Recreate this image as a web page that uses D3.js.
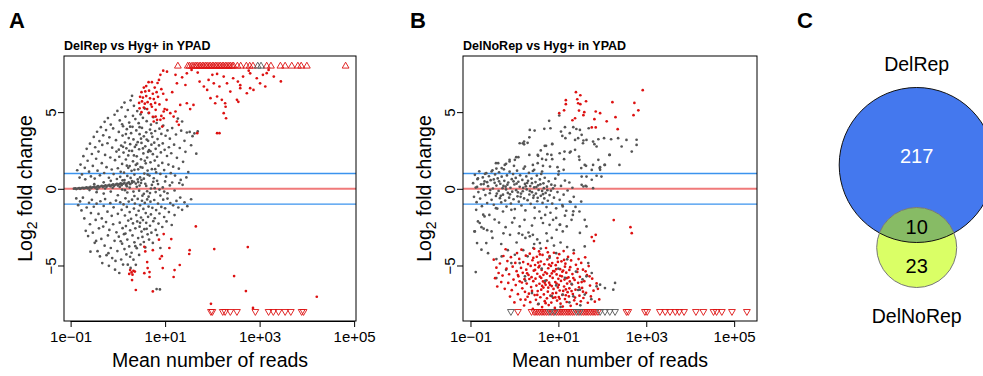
<!DOCTYPE html>
<html>
<head>
<meta charset="utf-8">
<script src="https://cdn.jsdelivr.net/npm/d3@7"></script>
<style>
  body { margin: 0; background: #fff; }
  text { font-family: "Liberation Sans", Arial, sans-serif; }
</style>
</head>
<body>
<script>
// MA plots: each point is [log10 mean reads, log2 fold change]
const aGray = [
  // near-zero band
  [-0.93,0.01],[-0.9,0.03],[-0.88,-0.02],[-0.85,0.02],[-0.82,0.05],[-0.8,0.0],[-0.77,0.04],[-0.74,0.07],[-0.72,0.02],[-0.69,0.06],
  [-0.66,0.09],[-0.64,0.03],[-0.61,0.08],[-0.58,0.12],[-0.56,0.05],[-0.53,0.1],[-0.5,0.14],[-0.48,0.07],[-0.45,0.12],[-0.42,0.17],
  [-0.4,0.09],[-0.37,0.15],[-0.34,0.2],[-0.32,0.11],[-0.29,0.18],[-0.26,0.23],[-0.24,0.13],[-0.21,0.21],[-0.18,0.26],[-0.16,0.16],
  [-0.13,0.24],[-0.1,0.29],[-0.08,0.18],[-0.05,0.27],[-0.02,0.33],[0.0,0.21],[0.03,0.3],[0.06,0.36],[0.08,0.24],[0.11,0.33],
  [0.14,0.39],[0.17,0.27],[0.2,0.36],[0.23,0.42],[0.26,0.3],[0.3,0.4],[0.34,0.46],[0.38,0.34],[0.43,0.44],[0.49,0.38],
  [-0.6,-0.08],[-0.44,-0.03],[-0.27,0.02],[-0.11,0.07],[0.04,0.12],[0.19,0.16],[-0.5,0.3],[-0.3,0.42],[-0.15,-0.18],[0.09,-0.05],
  [-0.3,-0.31],[-0.15,0.52],[0.0,-0.42],[0.1,0.55],[0.2,-0.24],[0.25,0.08],[0.35,-0.47],[0.4,0.13],[0.45,-0.12],[0.5,0.57],
  [0.55,-0.33],[0.6,0.19],[0.65,-0.51],[0.7,0.02],[0.75,0.46],[0.8,-0.21],[0.85,0.31],[0.9,-0.44],[0.95,0.09],[1.0,0.48],
  [1.05,-0.29],[1.1,0.22],[1.2,-0.11],[1.3,0.38],[1.37,0.26],[0.15,-0.09],[0.3,0.51],[0.62,-0.16],[0.78,0.04],[-0.45,-0.22],
  [0.52,-0.45],[0.58,0.33],[0.68,-0.28],[0.72,0.25],[0.88,-0.05],[0.98,-0.18],[1.15,0.41],[0.33,-0.18],[0.46,0.21],[0.83,0.52],
  // up
  [-0.86,1.21],[-0.81,0.73],[-0.79,1.58],[-0.76,0.94],[-0.73,2.13],[-0.7,1.37],[-0.69,0.62],[-0.66,2.61],[-0.64,1.83],[-0.61,1.12],
  [-0.59,2.94],[-0.57,0.81],[-0.55,2.27],[-0.53,1.49],[-0.51,3.38],[-0.49,0.67],[-0.48,2.71],[-0.46,1.96],[-0.44,3.72],[-0.43,1.18],
  [-0.41,2.43],[-0.39,3.11],[-0.38,0.88],[-0.36,4.02],[-0.34,1.67],[-0.33,2.86],[-0.31,3.49],[-0.29,1.03],[-0.28,4.37],[-0.27,2.21],
  [-0.25,3.83],[-0.24,1.41],[-0.22,2.97],[-0.21,4.61],[-0.19,0.72],[-0.18,3.36],[-0.16,2.04],[-0.15,4.19],[-0.13,1.26],[-0.12,2.68],
  [-0.1,3.94],[-0.09,0.96],[-0.07,4.83],[-0.06,1.87],[-0.04,3.17],[-0.03,2.43],[-0.01,5.08],[0.0,1.34],[0.02,3.71],[0.03,2.09],
  [0.04,4.46],[0.05,0.78],[0.07,2.82],[0.08,5.31],[0.09,1.62],[0.1,3.47],[0.11,4.08],[0.12,2.36],[0.13,1.05],[0.14,5.62],
  [0.15,3.02],[0.16,4.71],[0.17,1.91],[0.18,2.64],[0.19,3.89],[0.2,0.84],[0.21,5.14],[0.22,2.18],[0.23,3.31],[0.24,4.32],
  [0.25,1.48],[0.26,2.91],[0.27,5.77],[0.28,3.63],[0.29,1.17],[0.3,6.06],[0.3,2.47],[0.31,4.04],[0.32,1.79],[0.33,3.22],
  [0.34,5.41],[0.35,0.93],[0.36,2.73],[0.37,4.55],[0.38,1.56],[0.39,3.81],[0.4,2.12],[0.41,5.07],[0.42,3.04],[0.43,1.27],
  [0.44,4.28],[0.45,2.58],[0.46,3.56],[0.47,0.74],[0.48,4.86],[0.49,1.92],[0.5,2.99],[0.51,3.97],[0.52,1.38],[0.53,4.63],
  [0.54,2.31],[0.55,3.42],[0.56,0.99],[0.57,5.23],[0.58,2.77],[0.59,1.66],[0.6,3.68],[0.61,4.41],[0.62,2.04],[0.63,1.19],
  [0.64,3.13],[0.65,4.94],[0.66,2.52],[0.67,0.86],[0.68,3.86],[0.69,1.73],[0.7,4.18],[0.71,2.88],[0.72,1.28],[0.73,3.39],
  [0.74,2.26],[0.75,4.67],[0.76,0.69],[0.77,3.01],[0.78,1.84],[0.79,3.77],[0.8,2.61],[0.81,1.07],[0.82,4.29],[0.83,2.09],
  [0.84,3.24],[0.86,1.51],[0.87,2.83],[0.88,3.92],[0.9,0.97],[0.91,2.37],[0.92,3.58],[0.94,1.69],[0.95,2.96],[0.96,4.12],
  [0.98,1.22],[0.99,2.54],[1.01,3.46],[1.02,0.79],[1.04,2.14],[1.05,3.81],[1.07,1.58],[1.08,2.71],[1.1,3.27],[1.12,1.02],
  [1.13,2.32],[1.15,3.96],[1.17,1.44],[1.19,2.88],[1.21,0.86],[1.23,3.54],[1.25,2.02],[1.27,4.58],[1.29,1.31],[1.31,2.66],
  [1.34,3.79],[1.36,4.39],[1.38,1.76],[1.41,3.13],[1.43,2.41],[1.46,3.67],[1.49,1.09],[1.52,3.71],[1.55,2.84],[1.58,3.43],
  [1.62,3.61],[1.66,2.29],[1.69,3.74],[1.45,0.74],[1.33,0.58],
  [-0.02,0.64],[0.06,1.11],[0.14,0.57],[0.22,1.37],[0.27,0.71],[0.35,1.24],[0.42,0.61],[0.48,1.42],[0.55,0.66],[0.63,0.93],
  [0.11,2.74],[0.19,1.51],[0.26,4.05],[0.34,2.18],[0.41,1.64],[0.49,3.27],[0.57,1.83],[0.64,2.41],[0.71,3.62],[0.79,1.28],
  [0.02,2.55],[0.09,4.21],[0.17,3.57],[0.24,2.48],[0.32,4.76],[0.39,2.87],[0.46,4.02],[0.53,2.63],[0.61,3.21],[0.69,2.45],
  // down
  [-0.88,-0.63],[-0.84,-1.07],[-0.8,-0.82],[-0.77,-1.41],[-0.74,-0.58],[-0.71,-1.93],[-0.68,-2.74],[-0.66,-1.22],[-0.63,-3.08],[-0.61,-0.91],
  [-0.59,-2.31],[-0.57,-1.58],[-0.55,-0.72],[-0.53,-2.86],[-0.51,-1.17],[-0.49,-3.52],[-0.47,-2.03],[-0.45,-0.97],[-0.43,-4.07],[-0.41,-1.64],
  [-0.4,-2.58],[-0.38,-4.41],[-0.37,-0.81],[-0.35,-3.27],[-0.34,-1.93],[-0.33,-4.84],[-0.31,-2.46],[-0.3,-1.12],[-0.28,-3.71],[-0.27,-0.67],
  [-0.25,-2.17],[-0.24,-4.33],[-0.22,-1.49],[-0.21,-3.04],[-0.19,-5.02],[-0.18,-2.68],[-0.16,-0.94],[-0.15,-3.86],[-0.13,-1.76],[-0.12,-4.52],
  [-0.1,-2.31],[-0.09,-1.21],[-0.07,-3.39],[-0.06,-5.27],[-0.04,-0.77],[-0.03,-2.84],[-0.01,-4.06],[0.0,-1.63],[0.02,-3.12],[0.03,-5.49],
  [0.04,-2.21],[0.05,-0.88],[0.07,-4.61],[0.08,-1.37],[0.09,-3.58],[0.1,-2.57],[0.11,-4.94],[0.12,-1.02],[0.13,-2.96],[0.14,-3.93],
  [0.15,-1.74],[0.16,-0.62],[0.17,-2.43],[0.18,-4.28],[0.19,-1.18],[0.2,-3.31],[0.21,-4.95],[0.22,-2.07],[0.23,-0.83],[0.24,-3.76],
  [0.25,-1.52],[0.26,-2.71],[0.27,-5.16],[0.28,-1.96],[0.29,-4.17],[0.3,-0.71],[0.31,-3.04],[0.32,-2.26],[0.33,-4.62],[0.34,-1.29],
  [0.35,-3.49],[0.36,-0.96],[0.37,-2.58],[0.38,-4.96],[0.39,-1.71],[0.4,-3.87],[0.41,-2.13],[0.42,-0.66],[0.43,-3.21],[0.44,-1.43],
  [0.45,-4.31],[0.46,-2.47],[0.47,-1.08],[0.48,-3.63],[0.49,-1.87],[0.5,-2.79],[0.51,-0.78],[0.52,-3.14],[0.53,-2.04],[0.54,-1.31],
  [0.55,-3.47],[0.56,-2.63],[0.57,-0.92],[0.58,-3.82],[0.59,-1.58],[0.6,-2.22],[0.62,-0.69],[0.63,-2.97],[0.64,-1.83],[0.65,-1.16],
  [0.66,-3.31],[0.68,-2.41],[0.69,-0.84],[0.7,-1.67],[0.71,-2.86],[0.73,-1.24],[0.74,-3.53],[0.75,-2.11],[0.77,-0.73],[0.78,-1.92],
  [0.8,-2.68],[0.81,-1.39],[0.82,-6.54],[0.83,-3.02],[0.85,-0.96],[0.86,-2.27],[0.88,-1.61],[0.89,-6.56],[0.9,-3.86],[0.92,-1.18],
  [0.94,-2.49],[0.96,-0.71],[0.98,-1.84],[1.0,-1.27],[1.03,-2.13],[1.05,-0.64],[1.08,-1.52],[1.11,-0.93],[1.14,-2.36],[1.17,-1.08],
  [1.2,-1.71],[1.24,-0.79],[1.28,-1.22],[1.32,-0.57],[1.36,-1.37],[1.41,-0.88],[1.47,-1.13],[1.55,-0.68],
  [-0.58,-4.1],[-0.46,-3.4],[-0.2,-4.2],[-0.05,-4.7],[0.06,-3.42],[0.16,-2.92],[0.26,-4.43],[0.37,-3.74],[0.47,-2.22],[0.61,-2.61]
];
const aRed = [
  [0.96,7.7],[0.9,7.43],[0.87,7.1],[0.65,6.95],[0.72,6.95],[0.84,6.9],[0.55,6.6],[0.6,6.7],[0.78,6.6],[0.92,6.5],
  [0.5,6.3],[0.58,6.35],[0.66,6.4],[0.74,6.2],[0.82,6.3],[0.47,6.0],[0.53,5.95],[0.6,6.05],[0.68,5.9],[0.76,5.85],
  [0.85,6.0],[0.45,5.6],[0.51,5.7],[0.57,5.55],[0.63,5.65],[0.7,5.5],[0.79,5.6],[0.88,5.5],[0.46,5.25],[0.55,5.3],
  [0.62,5.2],[0.72,5.35],[0.8,5.15],[0.5,5.0],[0.66,4.95],[0.74,4.7],[0.92,4.75],[0.97,4.6],[0.83,4.5],[0.99,5.2],
  [1.03,5.8],[0.96,6.2],
  [1.04,7.64],[1.22,7.43],[1.25,6.88],[1.36,7.27],[1.46,7.53],[1.56,7.75],[1.69,7.58],[1.73,6.99],[1.82,6.67],[1.89,6.45],
  [1.92,7.1],[2.0,7.43],[2.03,6.88],[2.1,7.49],[2.15,6.67],[2.24,7.32],[2.31,6.88],[2.38,6.34],[2.44,7.21],[2.54,6.99],
  [2.59,6.56],[2.65,7.32],[2.73,6.23],[2.8,7.53],[2.87,6.45],[2.94,7.21],[3.01,6.88],[3.07,7.43],[3.12,6.67],[3.19,7.75],
  [3.3,7.32],[3.45,7.0],[1.96,5.91],[2.1,6.02],[2.2,5.8],[2.27,5.58],[2.06,5.58],[2.24,4.93],[2.29,4.6],[2.1,3.63],
  [2.15,3.63],[1.68,3.63],[1.6,5.47],[1.46,5.58],[1.32,5.47],[1.22,5.04],[1.18,4.71],[1.25,4.39],[1.29,4.17],[1.11,4.93],
  [1.04,5.15],[0.97,5.04],[0.9,4.5],[0.94,4.06],[0.8,4.71],[0.76,4.39],[1.43,6.77],[2.52,5.8],[2.8,6.56],[3.15,7.54],
  [2.59,6.76],[2.55,5.67],[2.28,5.35],[1.53,5.2],[1.15,6.3],[2.77,7.7],
  [1.65,-2.45],[0.97,-2.95],[1.13,-3.28],[0.87,-3.32],[0.56,-3.78],[1.09,-3.86],[0.74,-4.0],[0.58,-4.08],[1.52,-4.0],[1.51,-4.25],
  [0.93,-4.39],[0.89,-4.56],[0.62,-4.78],[1.31,-4.97],[0.95,-5.17],[0.63,-5.17],[1.2,-5.3],[0.26,-5.3],[0.29,-5.45],[0.33,-5.35],
  [0.31,-5.6],[0.36,-5.4],[0.24,-5.55],[0.56,-5.5],[0.67,-5.43],[1.18,-5.75],[0.67,-5.75],[0.3,-5.95],[0.38,-6.6],[0.74,-6.69],
  [1.97,-7.5],[2.04,-3.93],[2.75,-3.8],[2.46,-5.69],[2.71,-6.67],[2.86,-7.77],[4.21,-7.04]
];
// genes beyond the y range, drawn as triangles at the limit: log10 mean reads
const aUpRed = [1.27,1.48,1.52,1.57,1.61,1.65,1.68,1.72,1.75,1.79,1.82,1.86,1.89,1.93,1.96,2.0,2.03,2.07,2.1,2.14,
  2.17,2.21,2.24,2.28,2.31,2.35,2.38,2.42,2.45,2.53,2.6,2.72,2.79,2.86,3.15,3.24,3.44,3.54,3.68,3.81,3.88,4.0,4.82];
const aUpGray = [2.96,3.03];
const aDownRed = [1.97,2.0,2.22,2.27,2.38,2.52,2.91,3.19,3.29,3.4,3.54,3.66,3.89,3.93];

const bGray = [
  // central cloud
  [-0.94,0.37],[-0.92,-0.52],[-0.9,0.91],[-0.88,0.08],[-0.86,-0.87],[-0.84,0.63],[-0.82,-0.21],[-0.8,1.14],[-0.78,-0.64],[-0.76,0.29],
  [-0.74,-1.13],[-0.72,0.74],[-0.7,-0.06],[-0.68,0.48],[-0.66,-0.41],[-0.64,1.02],[-0.62,-0.93],[-0.6,0.17],[-0.58,0.82],[-0.56,-0.29],
  [-0.54,0.56],[-0.52,-0.72],[-0.5,1.21],[-0.49,0.02],[-0.47,-1.04],[-0.45,0.39],[-0.44,0.94],[-0.42,-0.47],[-0.41,0.21],[-0.39,-1.29],
  [-0.38,0.68],[-0.36,-0.14],[-0.35,1.08],[-0.33,-0.61],[-0.32,0.33],[-0.3,-0.89],[-0.29,0.79],[-0.27,0.04],[-0.26,-0.38],[-0.24,1.27],
  [-0.23,0.52],[-0.21,-0.77],[-0.2,0.14],[-0.18,-1.16],[-0.17,0.87],[-0.15,-0.27],[-0.14,0.41],[-0.12,-0.58],[-0.11,1.12],[-0.09,0.07],
  [-0.08,-0.96],[-0.06,0.63],[-0.05,-0.19],[-0.03,0.96],[-0.02,-0.68],[0.0,0.28],[0.01,-1.32],[0.03,0.71],[0.04,-0.09],[0.06,1.18],
  [0.07,-0.49],[0.09,0.46],[0.1,-0.84],[0.12,0.13],[0.13,0.88],[0.15,-0.31],[0.16,-1.09],[0.18,0.58],[0.19,-0.16],[0.21,1.31],
  [0.22,-0.63],[0.24,0.32],[0.25,-1.41],[0.27,0.81],[0.28,-0.04],[0.3,-0.74],[0.31,0.52],[0.33,1.04],[0.34,-0.37],[0.36,0.18],
  [0.37,-0.98],[0.39,0.67],[0.4,-0.22],[0.42,1.16],[0.43,-0.59],[0.45,0.09],[0.46,-1.23],[0.48,0.44],[0.49,-0.31],[0.51,0.86],
  [0.52,-0.81],[0.54,0.23],[0.55,-0.07],[0.57,-1.48],[0.58,0.61],[0.6,-0.46],[0.61,0.97],[0.63,-0.14],[0.64,-0.92],[0.66,0.36],
  [0.68,-0.63],[0.69,0.72],[0.71,-0.27],[0.73,-1.19],[0.74,0.14],[0.76,-0.78],[0.78,0.49],[0.8,-0.41],[0.82,-1.56],[0.84,0.27],
  [0.86,-0.96],[0.88,0.03],[0.9,-0.58],[0.93,0.66],[0.95,-1.27],[0.98,-0.21],[1.0,0.93],[1.03,-0.72],[1.06,0.19],[1.09,-1.06],
  [1.12,-0.38],[1.15,0.54],[1.18,-1.43],[1.21,-0.11],[1.25,0.41],[1.28,-0.86],[1.32,0.07],[1.35,-0.52],[1.39,-1.18],[1.01,1.14],
  [-0.62,0.43],[-0.47,0.61],[-0.31,-0.46],[-0.16,0.27],[-0.02,0.49],[0.14,-0.52],[0.26,0.16],[0.4,0.37],[0.53,-0.59],[0.67,0.04],
  [-0.55,-0.08],[-0.4,-0.31],[-0.25,0.19],[-0.1,-0.36],[0.05,0.34],[0.2,0.06],[0.35,-0.14],[0.5,0.11],[0.65,-0.35],[0.83,-0.12],
  [-0.85,0.12],[-0.7,0.31],[-0.35,0.49],[-0.19,-0.04],[0.08,-0.23],[0.29,0.38],[0.44,-0.44],[0.59,0.29],[0.75,-0.09],[0.92,0.21],
  // rising arm
  [0.19,2.97],[0.22,2.9],[0.69,2.8],[0.86,2.93],[1.14,2.43],[1.56,2.97],[0.04,2.06],[-0.11,1.89],[-0.42,1.67],[-0.19,1.63],
  [-0.01,1.5],[0.42,1.56],[0.65,1.5],[0.34,2.21],[0.53,2.21],[0.72,1.89],[0.84,2.21],[1.03,2.32],[1.26,2.36],[1.48,1.89],
  [1.63,1.5],[1.94,1.35],[2.05,1.56],[2.17,2.21],
  [0.12,2.97],[0.22,3.08],[0.34,3.36],[0.35,3.84],[0.46,3.8],[0.68,3.91],[0.82,3.95],[0.72,2.8],[0.86,2.91],[0.54,2.15],
  [0.63,1.95],[0.75,2.26],[0.86,1.93],[1.06,3.73],[1.15,4.02],[1.09,3.45],[1.16,3.3],[1.26,3.63],[1.34,4.02],[1.41,3.9],
  [1.49,3.84],[1.53,3.52],[1.38,3.19],[1.45,3.3],[1.57,3.15],[1.64,3.19],[1.69,3.95],[1.79,3.08],[1.82,2.91],[1.87,2.76],
  [1.91,3.23],[2.04,3.3],[2.2,3.23],[2.36,3.3],[2.44,2.76],[2.55,3.19],[2.67,2.43],[2.78,2.86],[2.39,1.56],[2.16,2.21],
  [2.06,1.56],[1.91,1.89],[1.95,1.41],[1.79,1.56],[1.76,1.23],[1.6,1.56],[1.47,2.1],[1.52,1.35],[1.38,2.54],[1.28,2.43],
  [1.13,1.93],[1.12,1.24],[0.98,1.41],[0.81,1.45],[0.63,1.13],[0.53,1.67],[0.45,1.24],[0.24,1.45],[0.09,2.06],[0.01,1.89],
  [-0.11,1.78],[-0.22,1.56],[-0.37,1.67],[-0.29,1.35],[-0.41,1.32],[-0.52,1.13],[-0.67,0.98],[-0.83,0.69],[1.64,0.8],[1.53,0.8],
  [1.87,0.85],[1.98,0.8],[1.57,0.15],[1.62,0.2],[1.79,0.04],[2.78,3.2],[1.95,1.24],[1.76,0.59],[1.64,0.15],[1.53,0.26],
  [0.79,4.43],[1.02,4.78],[0.3,3.0],[0.6,2.5],
  // lower
  [-0.88,-5.43],[-0.9,-2.78],[-0.85,-3.54],[-0.75,-3.97],[-0.64,-3.54],[-0.79,-2.23],[-0.71,-1.69],[-0.52,-2.78],[-0.41,-4.58],[-0.41,-5.82],
  [-0.29,-4.41],[-0.19,-5.28],[-0.07,-4.84],[0.01,-4.3],[0.12,-4.84],[0.24,-5.71],[0.12,-2.45],[0.35,-3.1],[0.43,-3.86],[0.58,-3.54],
  [0.65,-2.23],[0.73,-2.9],[0.85,-3.2],[0.96,-2.67],[1.04,-2.34],[1.19,-2.45],[1.3,-2.02],[1.34,-1.47],[-0.87,-1.37],[-0.68,-1.8],
  [-0.83,-2.13],[-0.57,-1.7],[-0.42,-1.26],[-0.26,-1.48],[-0.07,-1.37],[0.0,-1.91],[0.23,-2.02],[0.46,-1.91],[0.61,-1.91],[0.8,-2.35],
  [0.88,-2.02],[1.03,-2.35],[1.1,-2.78],[1.33,-1.7],[1.52,-0.83],[1.48,-1.48],[1.6,-2.02],[1.1,-1.15],[1.26,-0.83],[-0.75,-2.5],
  [-0.7,-2.6],[-0.62,-2.7],[-0.91,-2.78],[0.1,-2.9],[0.18,-3.0],[0.25,-3.2],[0.32,-2.85],[0.42,-3.0],[0.52,-3.3],[-0.35,-2.2],
  [-0.2,-2.5],[-0.1,-3.0],[0.05,-3.5],[-0.5,-3.2],[-0.3,-3.6],[-0.15,-4.0],[0.2,-4.0],[0.3,-4.4],[-0.6,-4.2],[-0.45,-2.0],
  [0.7,-1.7],[0.95,-1.9],[1.15,-1.75],[0.4,-2.4],[-0.05,-2.2],[-0.25,-2.9]
];
const bRed = [
  [1.4,6.3],[1.5,6.1],[1.17,5.78],[1.17,5.52],[1.43,5.84],[1.45,5.58],[1.5,5.52],[1.63,5.71],[1.13,5.12],[1.02,4.93],
  [1.47,5.1],[1.59,5.0],[1.57,4.8],[1.32,4.47],[1.38,4.6],[1.76,4.0],[1.85,4.0],[1.85,5.04],[1.95,4.93],[1.82,4.54],
  [2.23,5.65],[2.1,4.4],[2.3,4.67],[2.35,3.89],[2.73,5.6],[2.82,5.12],[2.71,4.8],[2.92,6.43],
  [2.26,-2.04],[2.64,-2.5],[2.67,-2.89],[1.76,-3.15],[1.81,-3.41],[1.85,-3.0],
  [-0.47,-4.62],[-0.44,-5.83],[-0.41,-5.14],[-0.39,-6.37],[-0.36,-5.49],[-0.33,-4.87],[-0.3,-6.08],[-0.27,-5.66],[-0.25,-4.38],[-0.22,-6.52],
  [-0.2,-3.94],[-0.18,-5.21],[-0.16,-4.71],[-0.14,-6.14],[-0.12,-5.57],[-0.1,-7.03],[-0.08,-4.46],[-0.06,-6.61],[-0.04,-5.08],[-0.02,-5.92],
  [0.0,-7.41],[0.02,-4.83],[0.03,-6.28],[0.05,-5.37],[0.06,-4.19],[0.08,-6.87],[0.09,-5.71],[0.11,-4.57],[0.12,-6.03],[0.14,-7.22],
  [0.15,-5.16],[0.16,-3.97],[0.18,-6.49],[0.19,-5.48],[0.2,-4.78],[0.22,-7.61],[0.23,-5.89],[0.24,-6.72],[0.26,-4.36],[0.27,-5.27],
  [0.28,-6.18],[0.3,-7.04],[0.31,-4.91],[0.32,-5.62],[0.33,-6.84],[0.35,-4.23],[0.36,-7.39],[0.37,-5.03],[0.38,-6.41],[0.39,-5.76],
  [0.41,-4.66],[0.42,-7.83],[0.43,-6.02],[0.44,-5.34],[0.45,-3.91],[0.46,-6.93],[0.47,-4.97],[0.48,-5.86],[0.49,-7.24],[0.5,-6.31],
  [0.51,-4.43],[0.52,-5.54],[0.53,-6.67],[0.54,-7.52],[0.55,-5.12],[0.56,-4.08],[0.57,-6.19],[0.58,-5.73],[0.59,-7.07],[0.6,-4.74],
  [0.61,-6.58],[0.62,-5.29],[0.63,-7.71],[0.64,-4.31],[0.65,-6.04],[0.66,-5.61],[0.67,-6.89],[0.68,-4.92],[0.69,-7.33],[0.7,-5.44],
  [0.71,-6.26],[0.72,-3.86],[0.73,-5.97],[0.74,-7.14],[0.75,-4.61],[0.76,-6.71],[0.77,-5.18],[0.78,-7.58],[0.79,-6.12],[0.8,-4.39],
  [0.81,-5.69],[0.82,-6.97],[0.83,-5.03],[0.84,-7.42],[0.85,-6.34],[0.86,-4.84],[0.87,-5.81],[0.88,-7.11],[0.89,-6.53],[0.9,-4.17],
  [0.91,-5.39],[0.92,-7.77],[0.93,-6.08],[0.94,-4.98],[0.95,-6.79],[0.96,-5.58],[0.97,-7.29],[0.98,-4.52],[0.99,-6.43],[1.0,-5.87],
  [1.01,-7.06],[1.02,-4.26],[1.03,-6.63],[1.04,-5.24],[1.05,-7.49],[1.06,-6.01],[1.07,-4.73],[1.08,-5.71],[1.09,-6.92],[1.1,-7.68],
  [1.11,-5.33],[1.12,-4.06],[1.13,-6.37],[1.14,-5.92],[1.15,-7.19],[1.16,-4.88],[1.17,-6.56],[1.18,-5.47],[1.19,-7.38],[1.2,-6.18],
  [1.22,-4.44],[1.23,-5.78],[1.24,-7.02],[1.25,-6.49],[1.27,-5.11],[1.28,-7.63],[1.29,-4.67],[1.31,-6.24],[1.32,-5.56],[1.33,-6.86],
  [1.35,-4.21],[1.36,-7.27],[1.37,-5.94],[1.39,-6.58],[1.4,-4.96],[1.42,-7.51],[1.43,-5.42],[1.45,-6.13],[1.46,-4.58],[1.48,-6.97],
  [1.49,-5.74],[1.51,-7.34],[1.52,-4.83],[1.54,-6.46],[1.56,-5.27],[1.57,-7.12],[1.59,-6.02],[1.61,-4.47],[1.63,-6.78],[1.65,-5.63],
  [1.67,-7.43],[1.69,-5.04],[1.72,-6.31],[1.74,-7.02],[1.77,-5.86],[1.8,-6.64],[1.83,-7.36],[1.87,-6.17],[1.9,-6.52],[1.93,-7.21],
  [0.57,-5.02],[0.66,-6.44],[0.74,-5.53],[0.81,-6.27],[0.88,-5.36],[0.96,-6.18],[1.04,-5.67],[1.11,-6.66],[1.19,-5.83],[1.26,-6.04],
  [0.52,-6.92],[0.61,-5.81],[0.69,-6.13],[0.77,-6.45],[0.85,-5.52],[0.93,-7.08],[1.01,-6.27],[1.09,-5.41],[1.17,-6.94],[1.34,-5.82],
  [0.47,-5.29],[0.54,-4.81],[0.63,-6.33],[0.71,-7.46],[0.79,-4.94],[0.87,-6.82],[0.95,-5.24],[1.03,-7.17],[1.13,-4.64],[1.21,-6.74],
  [0.34,-5.88],[0.4,-6.66],[0.29,-5.51],[0.17,-6.11],[0.25,-7.23],[0.08,-5.62],[0.43,-4.51],[0.58,-4.28],[0.76,-4.14],[0.99,-4.77],
  [1.44,-5.23],[1.53,-6.08],[1.62,-5.38],[1.71,-5.71],[1.3,-6.67],[1.38,-7.09],[1.47,-6.42],[1.56,-6.71],[1.25,-5.29],[1.15,-5.08]
];
// grey genes sitting inside the red cloud of panel B (drawn on top)
const bGrayOver = [
  [0.45,-3.6],[0.6,-3.9],[0.75,-3.4],[0.9,-3.7],[1.05,-3.5],[1.2,-3.8],[1.35,-4.0],[0.8,-4.5],[1.0,-5.2],[1.15,-5.8],
  [1.3,-6.2],[1.45,-6.6],[1.6,-6.9],[1.75,-7.2],[0.95,-6.3],[1.1,-6.9],[1.25,-7.4],[0.7,-6.0],[0.85,-7.0],[1.4,-5.4],
  [1.55,-5.9],[1.64,-5.71],[1.49,-6.58],[1.34,-7.01],[1.87,-6.36],[1.95,-6.25],[2.06,-6.47],[2.25,-6.58],[2.29,-6.14],[1.68,-4.84],
  [1.76,-5.49],[1.6,-3.76],[1.49,-2.88],[1.64,-2.45],[0.55,-7.5],[0.4,-6.8],[0.62,-5.2],[0.25,-6.0],[1.05,-7.7],[1.5,-7.6],
  [0.95,-4.2],[1.2,-4.6]
];
const bUpRed = [];
const bUpGray = [];
const bDownRed = [0.08,0.39,0.45,0.49,0.53,0.57,0.61,0.65,0.69,0.73,0.77,0.85,0.89,0.96,1.0,1.04,1.08,1.12,1.16,1.2,
  1.24,1.28,1.32,1.36,1.45,1.53,1.57,1.61,1.65,1.69,1.73,1.77,1.81,1.85,1.9,2.55,2.59,2.97,3.02,3.31,
  3.43,3.54,3.66,3.75,3.86,4.13,4.3,4.53,4.6,4.72,4.95,5.29];
const bDownGray = [-0.08,0.81,0.92,1.41,1.49,1.95,2.06,2.17,2.29];

// Venn counts
const vennSets = ["DelRep", "DelNoRep"];
const vennCounts = [217, 10, 23]; // DelRep only, both, DelNoRep only

const xTicks = [0.1, 10, 1000, 100000];
const xTickLabels = ["1e\u221201", "1e+01", "1e+03", "1e+05"];
const yTicks = [-5, 0, 5];
const yClip = 8;

const GRAY = "#555555";
const RED = "#dd1111";

const svg = d3.select("body").append("svg")
  .attr("width", 983).attr("height", 376)
  .attr("xmlns", "http://www.w3.org/2000/svg");

const plotTop = 56, plotBottom = 321;
const y = d3.scaleLinear().domain([-8.62, 8.66]).range([plotBottom, plotTop]);

const panels = [
  { letter: "A", lx: 9, title: "DelRep vs Hyg+ in YPAD", left: 64, right: 356, xDom: [-1.14, 5.04],
    gray: aGray, red: aRed, over: [], up: aUpRed, upGray: aUpGray, down: aDownRed, downGray: [] },
  { letter: "B", lx: 410, title: "DelNoRep vs Hyg+ in YPAD", left: 463, right: 757, xDom: [-1.17, 5.52],
    gray: bGray, red: bRed, over: bGrayOver, up: bUpRed, upGray: bUpGray, down: bDownRed, downGray: bDownGray }
];

const tri = d3.symbol().type(d3.symbolTriangle).size(20);

panels.forEach(p => {
  const x = d3.scaleLog().domain(p.xDom.map(v => 10 ** v)).range([p.left, p.right]);
  const g = svg.append("g");

  svg.append("text").attr("x", p.lx).attr("y", 28)
    .attr("font-size", 22).attr("font-weight", "bold").text(p.letter);
  g.append("text").attr("x", p.left).attr("y", 49.5)
    .attr("font-size", 12.5).attr("font-weight", "bold").text(p.title);

  // reference lines
  [[-1, "#3b93ee", 1.4], [1, "#3b93ee", 1.4], [0, "#f07a7a", 2]].forEach(([v, c, w]) => {
    g.append("line").attr("x1", p.left).attr("x2", p.right)
      .attr("y1", y(v)).attr("y2", y(v))
      .attr("stroke", c).attr("stroke-width", w);
  });

  const dot = (data, color) => g.append("g").attr("fill", color)
    .selectAll("circle").data(data).join("circle")
    .attr("cx", d => x(10 ** d[0])).attr("cy", d => y(d[1])).attr("r", 1.35);

  dot(p.gray, GRAY);
  dot(p.red, RED);
  dot(p.over, GRAY);

  const triangles = (data, color, v, rot) => g.append("g")
    .attr("fill", "none").attr("stroke", color).attr("stroke-width", 0.9)
    .selectAll("path").data(data).join("path")
    .attr("d", tri)
    .attr("transform", d => `translate(${x(10 ** d)},${y(v)}) rotate(${rot})`);

  triangles(p.up, RED, yClip, 0);
  triangles(p.upGray, GRAY, yClip, 0);
  triangles(p.down, RED, -yClip, 180);
  triangles(p.downGray, GRAY, -yClip, 180);

  g.append("rect").attr("x", p.left).attr("y", plotTop)
    .attr("width", p.right - p.left).attr("height", plotBottom - plotTop)
    .attr("fill", "none").attr("stroke", "#000").attr("stroke-width", 1);

  // x axis
  const xa = g.append("g").attr("transform", `translate(0,${plotBottom})`)
    .call(d3.axisBottom(x).tickValues(xTicks).tickSize(6).tickPadding(4)
      .tickFormat((d, i) => xTickLabels[i]));
  xa.select(".domain").attr("d", `M${x(xTicks[0])},0.5H${x(xTicks[3])}`);
  xa.selectAll("text").attr("font-size", 15).attr("fill", "#000")
    .attr("font-family", "Liberation Sans, Arial, sans-serif");

  // y axis, labels parallel to the axis
  const ya = g.append("g").attr("transform", `translate(${p.left},0)`)
    .call(d3.axisLeft(y).tickValues(yTicks).tickSize(6).tickFormat(d3.format("d")));
  ya.select(".domain").remove();
  ya.selectAll("text")
    .attr("font-size", 15).attr("fill", "#000")
    .attr("font-family", "Liberation Sans, Arial, sans-serif")
    .attr("text-anchor", "middle")
    .attr("x", 0).attr("dy", 0)
    .attr("transform", "translate(-8,0) rotate(-90)");

  g.append("text").attr("x", (p.left + p.right) / 2).attr("y", 367)
    .attr("text-anchor", "middle").attr("font-size", 19.5).text("Mean number of reads");

  const yl = g.append("text")
    .attr("transform", `translate(${p.left - 32},${(plotTop + plotBottom) / 2}) rotate(-90)`)
    .attr("text-anchor", "middle").attr("font-size", 19.5);
  yl.append("tspan").text("Log");
  yl.append("tspan").attr("font-size", 14).attr("dy", 5).text("2");
  yl.append("tspan").attr("dy", -5).text(" fold change");
});

// Venn diagram
const venn = svg.append("g");
venn.append("text").attr("x", 797).attr("y", 28)
  .attr("font-size", 22).attr("font-weight", "bold").text("C");

const big = { cx: 916.7, cy: 165, r: 77.5 };
const small = { cx: 916.7, cy: 247.5, r: 40 };

venn.append("defs").append("clipPath").attr("id", "bigClip")
  .append("circle").attr("cx", big.cx).attr("cy", big.cy).attr("r", big.r);

venn.append("circle").attr("cx", big.cx).attr("cy", big.cy).attr("r", big.r).attr("fill", "#4478ee");
venn.append("circle").attr("cx", small.cx).attr("cy", small.cy).attr("r", small.r).attr("fill", "#daff66");
venn.append("circle").attr("cx", small.cx).attr("cy", small.cy).attr("r", small.r)
  .attr("fill", "#87bb65").attr("clip-path", "url(#bigClip)");
venn.append("circle").attr("cx", big.cx).attr("cy", big.cy).attr("r", big.r)
  .attr("fill", "none").attr("stroke", "#111").attr("stroke-width", 1);
venn.append("circle").attr("cx", small.cx).attr("cy", small.cy).attr("r", small.r)
  .attr("fill", "none").attr("stroke", "#777").attr("stroke-width", 1);

venn.append("text").attr("x", big.cx).attr("y", 70.5).attr("text-anchor", "middle")
  .attr("font-size", 19.5).text(vennSets[0]);
venn.append("text").attr("x", small.cx).attr("y", 322.5).attr("text-anchor", "middle")
  .attr("font-size", 19.5).text(vennSets[1]);
venn.append("text").attr("x", big.cx).attr("y", 162.7).attr("text-anchor", "middle")
  .attr("font-size", 20).attr("fill", "#fff").text(vennCounts[0]);
venn.append("text").attr("x", big.cx).attr("y", 234.3).attr("text-anchor", "middle")
  .attr("font-size", 20).text(vennCounts[1]);
venn.append("text").attr("x", big.cx).attr("y", 273.3).attr("text-anchor", "middle")
  .attr("font-size", 20).text(vennCounts[2]);
</script>
</body>
</html>
